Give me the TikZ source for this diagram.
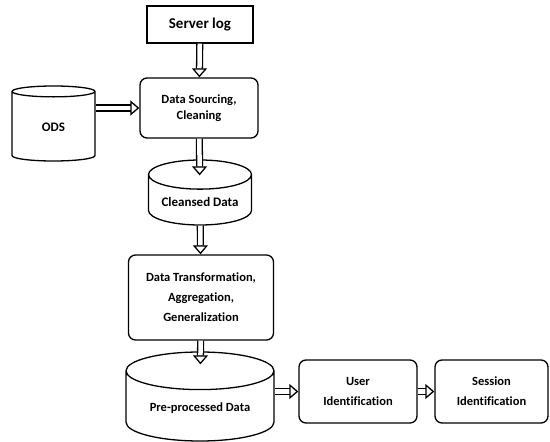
\documentclass[tikz,border=0pt]{standalone}
\usepackage{fontspec}
\setmainfont{Carlito}[Ligatures = NoCommon]
\usetikzlibrary{arrows.meta, shapes.geometric}

\begin{document}
\begin{tikzpicture}[x = 1pt, y = -1pt, % pixel units, y grows downward
                > = {Triangle[open, length = 9pt, width = 15pt]}, % arrow head style
                line width = 1.3pt % line style
            ]

            \tikzstyle{box}=[draw = black, rectangle, rounded corners = 7pt,
            align = center, inner sep = 2pt,
            font = \bfseries\fontsize{12.5}{20}\selectfont]
            \tikzstyle{store}=[draw = black, cylinder, shape border rotate = 90,
            anchor = shape center, aspect = 0.36, inner sep = 2pt,
            font = \bfseries\fontsize{12.5}{20}\selectfont]
            \tikzstyle{flow}=[double, double distance = 4.5pt, ->]

            \useasboundingbox (0,0) rectangle (550,442);

            \node (log) [box, rounded corners = 0pt, minimum width = 106pt,
            minimum height = 37pt, font = \bfseries\fontsize{15}{19}\selectfont]
            at (200,24.5) {Server log};
            \node (src) [box, minimum width = 118pt, minimum height = 60pt,
            font = \bfseries\fontsize{12.5}{16}\selectfont]
            at (199,108) {Data Sourcing,\\Cleaning};
            \node (ods) [store, aspect = 0.4, minimum width = 83pt,
            minimum height = 75pt, font = \bfseries\fontsize{13}{16}\selectfont]
            at (53.5,123.5) {ODS};
            \node (cln) [store, minimum width = 103pt, minimum height = 65pt,
            font = \bfseries\fontsize{13}{16}\selectfont]
            at (200,192.5) {Cleansed Data};
            \node (trf) [box, minimum width = 145pt, minimum height = 85pt]
            at (201,297.5) {Data Transformation,\\Aggregation,\\Generalization};
            \node (pre) [store, minimum width = 148pt, minimum height = 89pt]
            at (200,396.5) {Pre-processed Data};
            \node (usr) [box, minimum width = 118pt, minimum height = 63pt]
            at (358,391.5) {User\\Identification};
            \node (ses) [box, minimum width = 113pt, minimum height = 63pt]
            at (491.5,391.5) {Session\\Identification};

            \draw[flow] (log) -- (src);
            \draw[flow] (ods.east |- src) -- (src);
            \draw[flow, shorten > = -16pt] (src) -- (cln);
            \draw[flow] (cln) -- (trf);
            \draw[flow, shorten > = -13pt] (trf) -- (pre);
            \draw[flow] (pre.east |- usr) -- (usr);
            \draw[flow] (usr) -- (ses);
        \end{tikzpicture}
\end{document}
